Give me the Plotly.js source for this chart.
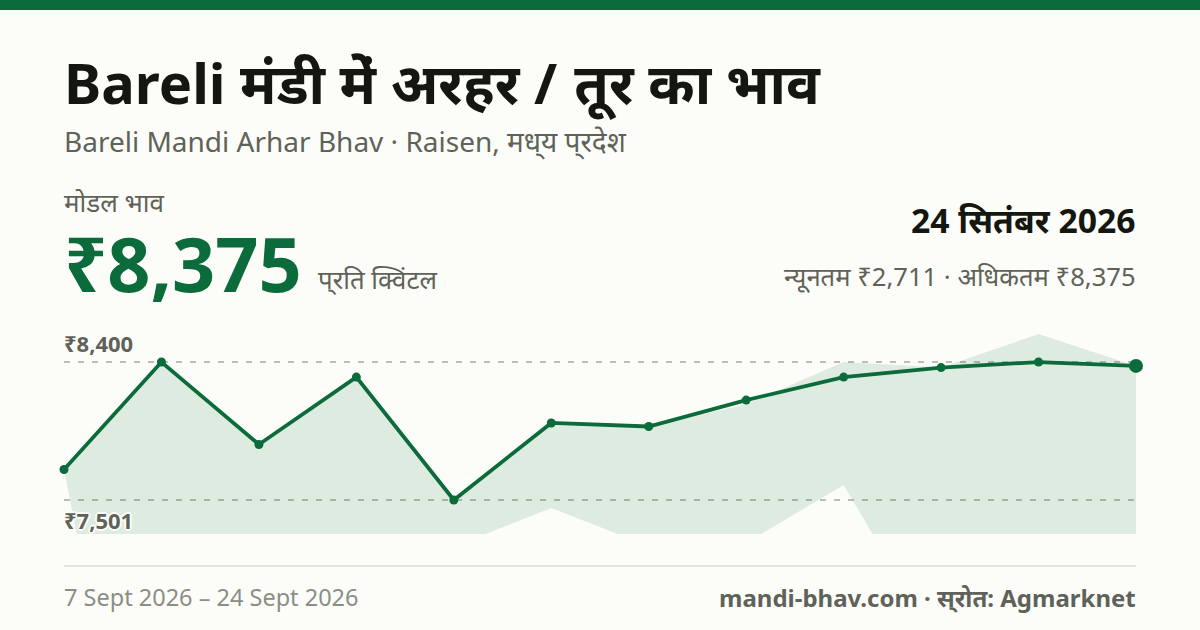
<!DOCTYPE html>
<html><head><meta charset="utf-8">
<script src="https://cdn.plot.ly/plotly-3.0.1.min.js"></script>
<style>html,body{margin:0;padding:0;background:#fcfdf9}#c{width:1200px;height:630px}
.annotation-text{font-feature-settings:"akhn" 0,"half" 0,"blwf" 0,"pstf" 0,"rphf" 0,"rkrf" 0,"vatu" 0,"cjct" 0,"pres" 0,"abvs" 0,"blws" 0,"psts" 0,"haln" 0,"liga" 0,"rlig" 0}</style></head>
<body><div id="c"></div>
<script>
const dates = ['2026-09-07','2026-09-08','2026-09-09','2026-09-10','2026-09-11','2026-09-12','2026-09-14','2026-09-15','2026-09-16','2026-09-17','2026-09-18','2026-09-24'];
const indexes = [0,1,2,3,4,5,6,7,8,9,10,11];
const modal = [7700,8400,7863,8302,7501,8003,7980,8152,8302,8364,8400,8375];
const upper = [7700,8400,7863,8302,7501,8003,7980,8125,8400,8364,8582,8375];
const lower = [7700,4485,5500,6800,7197,7449,7200,7221,7599,6520,6500,2711];
const refValues = [8400,7501];
const refLabels = ['₹8,400','₹7,501'];
const FONT = '"Noto Sans","Noto Sans Devanagari",sans-serif';
const GREEN = '#0b6b3a', BG = '#fcfdf9';
const px = x => x/1200, py = y => 1-y/630;
const NORMAL = t => '<span style="font-feature-settings:normal">'+t+'</span>';
const H = (text,x,y,size,color,anchor,bold) => ({text: bold?'<b>'+text+'</b>':text, xref:'paper', yref:'paper', x:px(x), y:py(y), xanchor:anchor||'left', yanchor:'middle', xshift:anchor==='right'?2:-2, showarrow:false, font:{family:FONT,size,color}});
const halo = '-2px 0 0 #fcfdf9,2px 0 0 #fcfdf9,0 -2px 0 #fcfdf9,0 2px 0 #fcfdf9,-1px -1px 0 #fcfdf9,1px 1px 0 #fcfdf9,1px -1px 0 #fcfdf9,-1px 1px 0 #fcfdf9';
const traces = [
 {x: indexes.concat(indexes.slice().reverse()), y: upper.concat(lower.slice().reverse()), mode:'lines', fill:'toself', fillcolor:'rgba(11,107,58,0.12)', line:{width:0}, hoverinfo:'skip'},
 {x: indexes, y: modal, mode:'lines+markers', line:{color:GREEN,width:3.8}, marker:{color:GREEN,size:indexes.map((d,i)=>i===indexes.length-1?14:9),opacity:1,line:{width:0}}, cliponaxis:false}
];
const layout = {
 width:1200,height:630,margin:{l:0,r:0,t:0,b:0},paper_bgcolor:BG,plot_bgcolor:'rgba(0,0,0,0)',showlegend:false,
 xaxis:{domain:[px(64),px(1136)],range:[0,11],showgrid:false,zeroline:false,showticklabels:false,ticks:'',showline:false},
 yaxis:{domain:[py(534),py(320)],range:[7279.5,8674],tickvals:refValues,showticklabels:false,ticks:'',zeroline:false,showline:false,showgrid:true,griddash:'6px,8px',gridcolor:'#bcbeb6',gridwidth:1.5},
 shapes:[
  {type:'rect',xref:'paper',yref:'paper',x0:0,x1:1,y0:py(10),y1:1,fillcolor:GREEN,line:{width:0}},
  {type:'line',xref:'paper',yref:'paper',x0:px(64),x1:px(1136),y0:py(566),y1:py(566),line:{color:'#e3e5df',width:2}}
 ],
 annotations:[
  H('Bareli मंडी में अरहर <span style="letter-spacing:2.5px">/</span> तूर का भाव',64,82,56,'#14170f','left',true),
  H('Bareli Mandi Arhar Bhav · Raisen, मध्य प्रदेश',64,141,28,'#5f6258'),
  H('मोडल भाव',64,202,26,'#5f6258'),
  H('₹8,375',64,262,75.6,GREEN,'left',true),
  H('प्रति '+NORMAL('क्विंटल'),318,279,25.8,'#5f6258'),
  H('24 सितंबर 2026',1136,220,33.7,'#14170f','right',true),
  Object.assign(H(NORMAL('न्यूनतम')+' ₹2,711 · अधिकतम ₹8,375',1136,276,25.6,'#5f6258','right'),{xshift:2}),
  H(refLabels[0],64,343,22,'#5f6258','left',true),
  H(refLabels[1],64,520,22,'#5f6258','left',true),
  H('7 Sept 2026 – 24 Sept 2026',64,597,23.5,'#8b8e85'),
  H('mandi-bhav.com · स्रोत: Agmarknet',1136,597,24,'#5f6258','right',true)
 ]
};
layout.annotations[8].font.shadow = halo;
Plotly.newPlot('c',traces,layout,{staticPlot:true,displayModeBar:false});
</script></body></html>
